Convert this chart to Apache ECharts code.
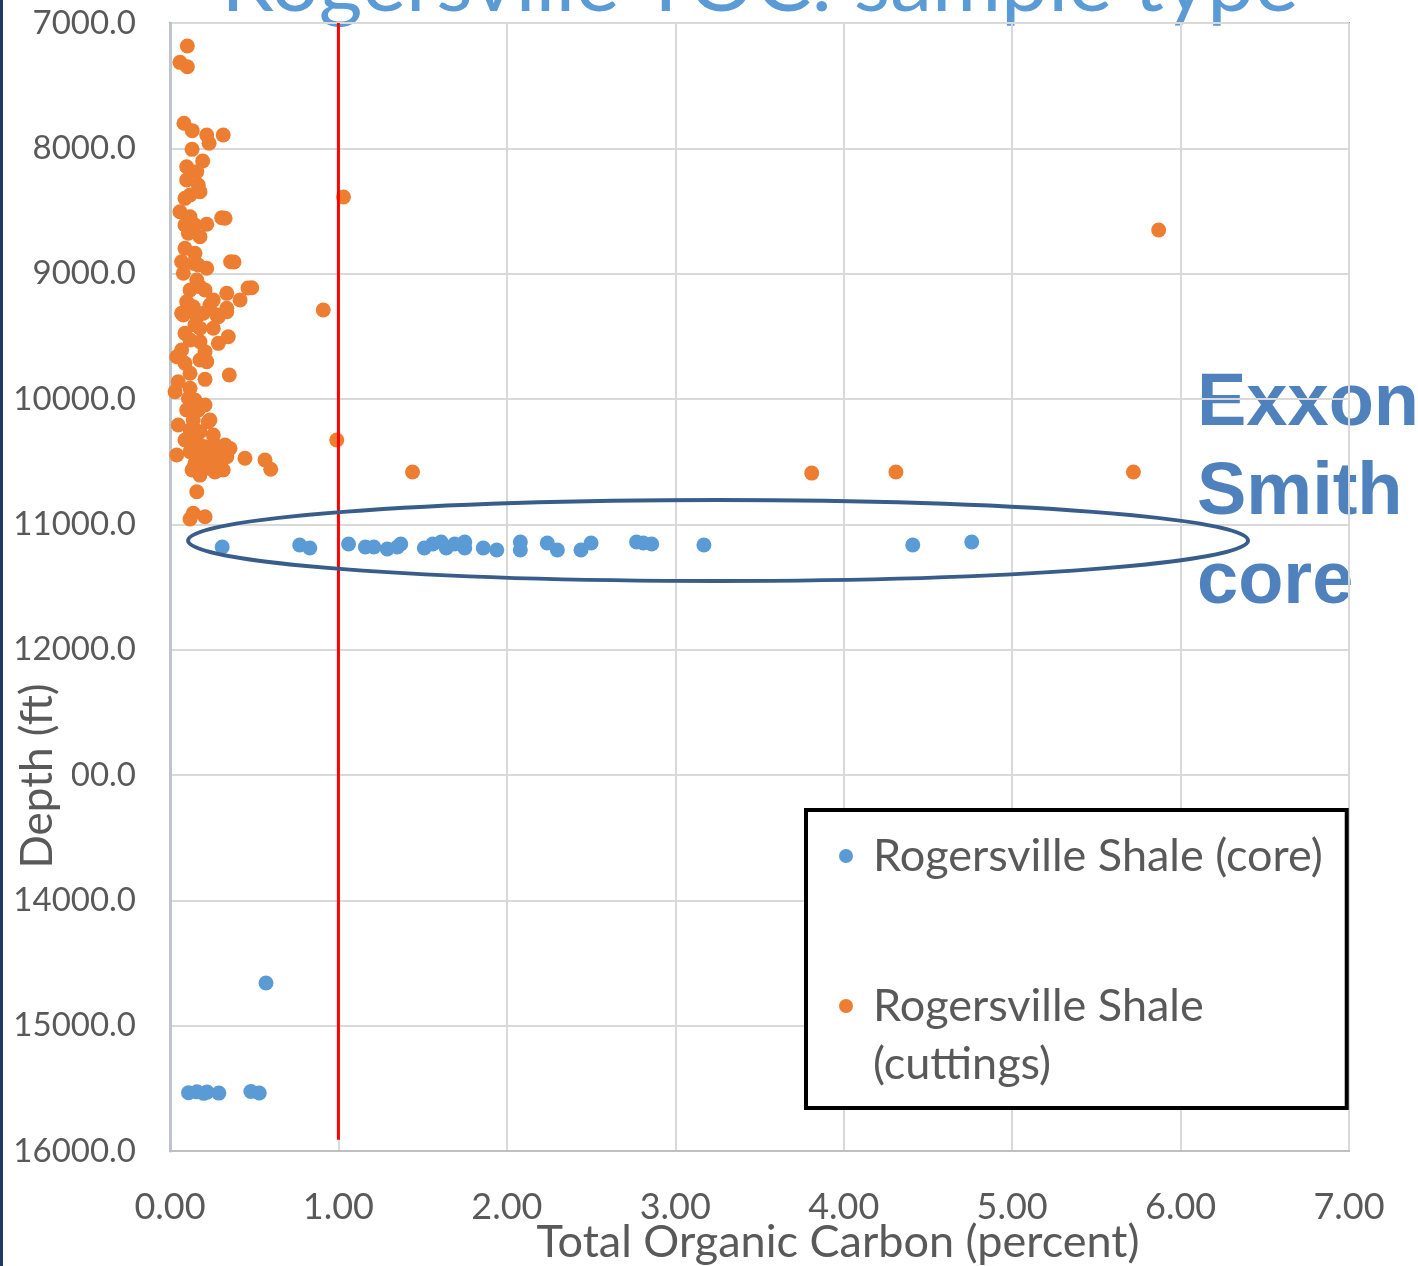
<!DOCTYPE html>
<html>
<head>
<meta charset="utf-8">
<script src="https://cdn.jsdelivr.net/npm/echarts@6/dist/echarts.min.js"></script>
<style>
html,body{margin:0;padding:0;background:#fff;}
#chart{width:1418px;height:1266px;}
</style>
</head>
<body>
<div id="chart"></div>
<script>
// ---- data ----
const coreToc = [0.31,0.77,0.83,1.06,1.16,1.21,1.29,1.35,1.37,1.51,1.56,1.61,1.64,1.69,1.75,1.75,1.86,1.94,2.08,2.08,2.24,2.30,2.44,2.50,2.77,2.81,2.86,3.17,4.41,4.76,
  0.57,0.11,0.16,0.20,0.22,0.29,0.48,0.53];
const coreDepth = [11181,11165,11189,11157,11181,11181,11197,11181,11157,11189,11157,11141,11189,11157,11141,11189,11189,11205,11141,11205,11149,11205,11205,11149,11141,11149,11157,11165,11165,11141,
  14660,15535,15528,15540,15530,15538,15525,15537];

const cuttingsToc = [0.103,0.059,0.103,0.083,0.132,0.218,0.232,0.316,0.131,0.194,0.099,0.159,0.099,0.168,0.178,0.119,0.089,0.059,0.119,0.307,
  0.327,0.218,0.089,0.148,0.109,0.178,0.089,0.148,0.069,0.138,0.168,0.218,0.360,0.380,0.079,0.159,0.178,0.485,0.463,0.208,
  0.119,0.337,0.257,0.416,0.099,0.237,0.138,0.337,0.337,0.069,0.198,0.277,0.079,0.159,0.287,0.148,0.178,0.257,0.089,0.346,
  0.119,0.178,0.287,0.069,0.208,0.040,0.178,0.218,0.089,0.119,0.352,0.208,0.049,0.119,0.030,0.109,0.148,0.208,0.099,0.168,
  0.138,0.237,0.227,0.049,0.119,0.148,0.178,0.257,0.089,0.138,0.327,0.178,0.267,0.218,0.356,0.119,0.237,0.040,0.178,0.297,
  0.337,0.445,0.267,0.564,0.148,0.218,0.297,0.237,0.598,0.131,0.316,0.267,0.178,0.159,0.138,0.208,0.119,
  1.03,5.87,0.91,0.99,1.44,3.81,4.31,5.72];
const cuttingsDepth = [7184,7314,7349,7800,7859,7894,7960,7894,8008,8101,8147,8186,8253,8293,8346,8372,8399,8506,8546,8554,
  8558,8606,8612,8612,8678,8705,8798,8838,8905,8917,8931,8957,8905,8907,8997,9051,9104,9112,9114,9130,
  9130,9157,9210,9210,9224,9250,9264,9276,9304,9316,9316,9330,9330,9343,9343,9410,9436,9436,9476,9503,
  9529,9543,9556,9609,9623,9663,9689,9702,9715,9795,9809,9843,9862,9915,9942,9995,10008,10048,10088,10088,
  10168,10168,10181,10208,10248,10248,10261,10287,10327,10327,10367,10367,10367,10381,10394,10421,10433,10447,10447,10447,
  10460,10473,10487,10487,10513,10513,10527,10553,10561,10567,10567,10583,10607,10740,10912,10939,10958,
  8388,8652,9290,10327,10583,10591,10583,10583];

const thresholdToc = [1.0, 1.0];
const thresholdDepth = [7000, 15910];

const xTicks = [0,1,2,3,4,5,6,7];
const yTicks = [7000,8000,9000,10000,11000,12000,13000,14000,15000,16000];

const seriesNames = ['Rogersville Shale (core)', 'Rogersville Shale (cuttings)'];
const titleText = 'Rogersville TOC: sample type';
const xName = 'Total Organic Carbon (percent)';
const yName = 'Depth (ft)';
const noteText = 'Exxon\nSmith\ncore';
// annotation ellipse in data units: centre (TOC, depth) and radii
const ellipseCenter = [3.254, 11129];
const ellipseRadius = [3.147, 323];

const zip = (a, b) => a.map((v, i) => [v, b[i]]);

const chart = echarts.init(document.getElementById('chart'));
const labelColor = '#595959';

chart.setOption({
  animation: false,
  grid: {left: 170, top: 23, width: 1179, height: 1128, show: true, borderColor: '#5B9BD5', borderWidth: 2, backgroundColor: 'transparent'},
  xAxis: {
    type: 'value', min: xTicks[0], max: xTicks[xTicks.length-1], interval: 1,
    axisLine: {show: true, lineStyle: {color: '#BFBFBF', width: 2}},
    axisTick: {show: false},
    splitLine: {show: true, lineStyle: {color: '#D9D9D9', width: 2}},
    axisLabel: {formatter: v => v.toFixed(2), fontFamily: 'Lato', fontSize: 36, color: labelColor, margin: 38}
  },
  yAxis: {
    type: 'value', inverse: true, min: yTicks[0], max: yTicks[yTicks.length-1], interval: 1000,
    axisLine: {show: true, lineStyle: {color: '#BFC4CC', width: 3}},
    axisTick: {show: false},
    splitLine: {show: true, lineStyle: {color: '#D9D9D9', width: 2}},
    axisLabel: {formatter: v => v.toFixed(1), fontFamily: 'Lato', fontSize: 33, color: labelColor, margin: 34}
  },
  legend: {
    orient: 'vertical', left: 806, top: 810,
    padding: [17, 24, 15, 33], itemGap: 34, itemWidth: 14, itemHeight: 14, icon: 'circle',
    borderColor: '#000', borderWidth: 4, backgroundColor: '#fff',
    data: seriesNames,
    formatter: name => name === seriesNames[1] ? ' \nRogersville Shale\n(cuttings)' : name,
    textStyle: {fontFamily: 'Lato', fontSize: 45, color: labelColor, lineHeight: 58, padding: [0,0,0,15]}
  },
  series: [
    {name: seriesNames[0], type: 'scatter', data: zip(coreToc, coreDepth), symbolSize: 15,
     itemStyle: {color: '#5B9BD5', opacity: 1}, z: 2},
    {name: seriesNames[1], type: 'scatter', data: zip(cuttingsToc, cuttingsDepth), symbolSize: 15,
     itemStyle: {color: '#ED7D31', opacity: 1}, z: 2},
    {name: 'threshold', type: 'line', data: zip(thresholdToc, thresholdDepth), symbol: 'none',
     lineStyle: {color: '#FF0000', width: 3}, z: 3, silent: true}
  ],
  graphic: [
    {id: 'leftbar', type: 'rect', left: 0, top: 0, shape: {width: 3, height: 1266}, style: {fill: '#203864'}, z: 10},
    {id: 'title', type: 'text', x: 760, y: 26, style: {text: titleText, fontFamily: 'Lato', fontSize: 84,
      fill: '#5B9BD5', align: 'center', verticalAlign: 'bottom'}, z: -1},
    {id: 'xname', type: 'text', x: 838, y: 1242, style: {text: xName, fontFamily: 'Lato', fontSize: 45, fill: labelColor,
      align: 'center', verticalAlign: 'middle'}},
    {id: 'yname', type: 'text', x: 38, y: 776, rotation: Math.PI/2, style: {text: yName, fontFamily: 'Lato', fontSize: 44,
      fill: labelColor, align: 'center', verticalAlign: 'middle', backgroundColor: '#fff', padding: [12, 4, 12, 4]}, z: 10},
    {id: 'note', type: 'text', x: 1197, y: 360, style: {text: noteText, fontFamily: 'Liberation Sans', fontWeight: 'bold', fontSize: 74,
      lineHeight: 89, fill: '#4F81BD', align: 'left', verticalAlign: 'top'}, z: -1}
  ]
});

const c = chart.convertToPixel({gridIndex: 0}, ellipseCenter);
const ex = chart.convertToPixel({gridIndex: 0}, [ellipseCenter[0] + ellipseRadius[0], ellipseCenter[1]]);
const ey = chart.convertToPixel({gridIndex: 0}, [ellipseCenter[0], ellipseCenter[1] + ellipseRadius[1]]);
chart.setOption({
  graphic: [
    {id: 'ellipse', type: 'ellipse', shape: {cx: c[0], cy: c[1], rx: Math.abs(ex[0]-c[0]), ry: Math.abs(ey[1]-c[1])},
     style: {fill: 'none', stroke: '#385D8A', lineWidth: 4}, z: 5, silent: true}
  ]
});
</script>
</body>
</html>
